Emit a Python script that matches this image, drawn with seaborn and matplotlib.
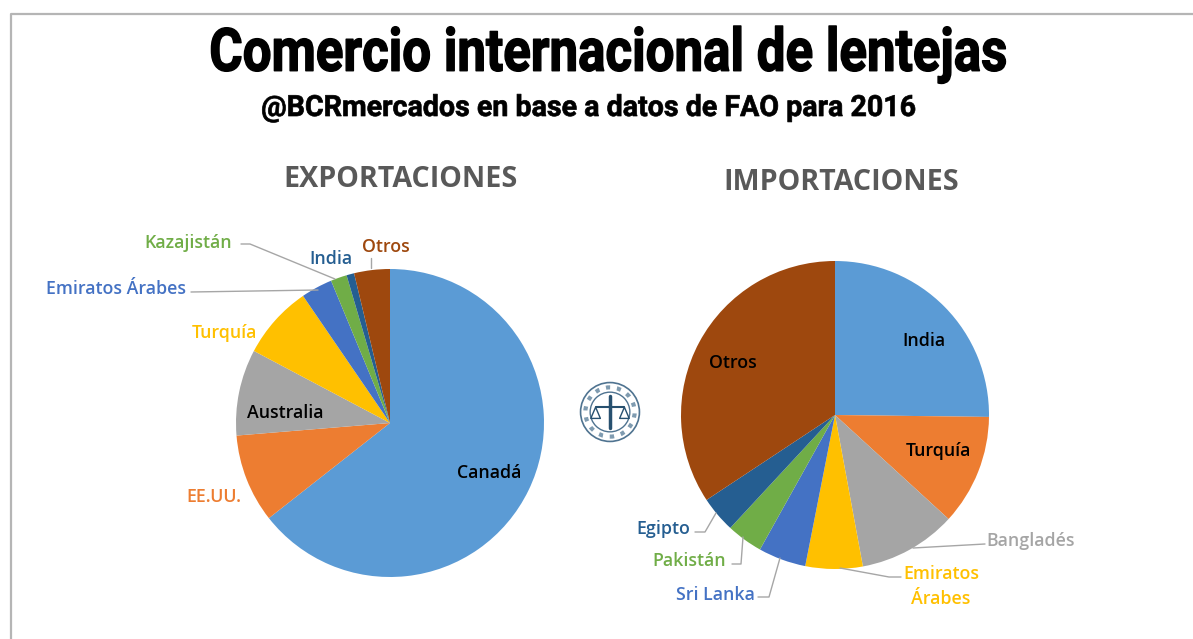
"""Comercio internacional de lentejas: two pies."""
import matplotlib.patheffects as pe
import matplotlib.pyplot as plt
import seaborn as sns
from matplotlib.lines import Line2D
from matplotlib.patches import Circle
from matplotlib.transforms import Affine2D

W, H = 1193, 639

exp_names = ["Canadá", "EE.UU.", "Australia", "Turquía", "Emiratos Árabes",
             "Kazajistán", "India", "Otros"]
exp_values = [64.4, 9.3, 9.05, 7.7, 3.3, 1.7, 0.8, 3.75]

imp_names = ["India", "Turquía", "Bangladés", "Emiratos\nÁrabes", "Sri Lanka",
             "Pakistán", "Egipto", "Otros"]
imp_values = [25.2, 11.6, 10.3, 6.0, 5.0, 3.8, 3.8, 34.3]

exp_colors = ["#5B9BD5", "#ED7D31", "#A5A5A5", "#FFC000", "#4472C4",
              "#70AD47", "#255E91", "#9E480E"]
imp_colors = list(exp_colors)

sns.set_theme(style="white")
plt.rcParams["font.family"] = ["Open Sans", "DejaVu Sans"]


class Squeeze(pe.AbstractPathEffect):
    """Narrow the glyphs around a pixel x, there is no condensed font here."""

    def __init__(self, x_center, factor, stroke):
        super().__init__()
        self.x_center = x_center
        self.factor = factor
        self.stroke = stroke

    def draw_path(self, renderer, gc, tpath, affine, rgbFace=None):
        squeezed = affine + (Affine2D().translate(-self.x_center, 0)
                             .scale(self.factor, 1).translate(self.x_center, 0))
        gc0 = renderer.new_gc()
        gc0.copy_properties(gc)
        gc0.set_linewidth(self.stroke)
        gc0.set_foreground("black")
        renderer.draw_path(gc0, tpath, squeezed, rgbFace)
        gc0.restore()


def px(x, y):
    return x / W, 1 - y / H


def leader(points):
    xs, ys = zip(*[px(x, y) for x, y in points])
    fig.add_artist(Line2D(xs, ys, color="#a6a6a6", lw=1))


def label(x, y, txt, color, size=12.8, **kw):
    fig.text(*px(x, y + 1.5), txt, color=color, fontsize=size, fontweight="semibold",
             ha="center", va="center", zorder=5, **kw)


def pie(cx, cy, r, values, colors):
    ax = fig.add_axes([(cx - r) / W, 1 - (cy + r) / H, 2 * r / W, 2 * r / H])
    sns.despine(ax=ax, left=True, bottom=True)
    ax.pie(values, colors=colors, startangle=90, counterclock=False, radius=1,
           wedgeprops=dict(linewidth=0))
    ax.set_xlim(-1, 1)
    ax.set_ylim(-1, 1)


fig = plt.figure(figsize=(W / 100, H / 100), dpi=100, facecolor="white")

# frame of the original screenshot
fig.add_artist(Line2D([11 / W, 11 / W, 1], [0, 1 - 14 / H, 1 - 14 / H],
                      color="#b5b5b5", lw=1.6))

fig.text(*px(609, 55), "Comercio internacional de lentejas", fontsize=43,
         family="Roboto", fontweight="bold", color="black", ha="center", va="center",
         path_effects=[Squeeze(609, 0.855, 1.0)])
fig.text(*px(589, 108), "@BCRmercados en base a datos de FAO para 2016", fontsize=21,
         family="Roboto", fontweight="bold", color="black", ha="center", va="center",
         path_effects=[Squeeze(589, 0.98, 0.5)])
fig.text(*px(400, 179), "EXPORTACIONES", fontsize=20.6, fontweight="bold",
         color="#595959", ha="center", va="center")
fig.text(*px(841, 182), "IMPORTACIONES", fontsize=20.6, fontweight="bold",
         color="#595959", ha="center", va="center")

pie(390, 423, 154, exp_values, exp_colors)
pie(835, 415, 154, imp_values, imp_colors)

# leader lines
leader([(241, 244), (250, 244), (335, 279)])
leader([(191, 292), (318, 290)])
leader([(371, 268), (371, 258)])
leader([(695, 532), (705, 532), (716, 513)])
leader([(732, 564), (741, 564), (743, 537)])
leader([(758, 597), (769, 597), (780, 558)])
leader([(901, 577), (889, 577), (840, 568)])
leader([(985, 544), (913, 548)])

exp_pos = [(489, 471), (214, 495), (285, 412), (224, 332), (116, 288),
           (188, 241), (331, 258), (386, 245)]
exp_text = ["black", "#ED7D31", "black", "#FFC000", "#4472C4",
            "#70AD47", "#255E91", "#9E480E"]
for name, (x, y), c in zip(exp_names, exp_pos, exp_text):
    label(x, y, name, c)

imp_pos = [(924, 339), (938, 449), (1031, 540), (941, 585), (715, 593),
           (689, 560), (663, 527), (733, 362)]
imp_text = ["black", "black", "#A5A5A5", "#FFC000", "#4472C4",
            "#70AD47", "#255E91", "black"]
for name, (x, y), c in zip(imp_names, imp_pos, imp_text):
    label(x, y, name, c, linespacing=1.55)

# seal in the middle
seal = fig.add_axes([578 / W, 1 - 444 / H, 64 / W, 64 / H])
seal.set_xlim(-1, 1)
seal.set_ylim(-1, 1)
seal.axis("off")
seal.add_patch(Circle((0, 0), 0.92, fc="white", ec="#4f7390", lw=1.2))
seal.add_patch(Circle((0, 0), 0.62, fc="white", ec="#4f7390", lw=1))
seal.add_patch(Circle((0, 0), 0.77, fc="none", ec="#7f9bb0", lw=3, ls=":"))
seal.plot([0, 0], [-0.5, 0.5], color="#27506f", lw=2.5)
seal.plot([-0.45, 0.45], [0.15, 0.15], color="#27506f", lw=1.5)
seal.plot([-0.45, -0.6, -0.3, -0.45], [0.15, -0.2, -0.2, 0.15], color="#27506f", lw=1)
seal.plot([0.45, 0.3, 0.6, 0.45], [0.15, -0.2, -0.2, 0.15], color="#27506f", lw=1)

fig.savefig("out.png", dpi=100)
